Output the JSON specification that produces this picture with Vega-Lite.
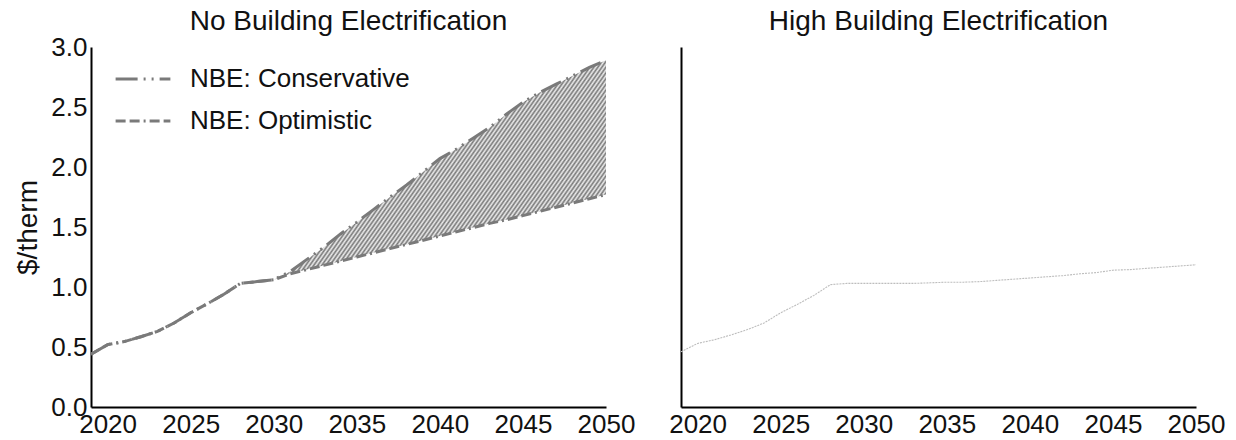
{
  "$schema": "https://vega.github.io/schema/vega-lite/v6.json",
  "padding": {"left": 14, "top": 8, "right": 4, "bottom": 0},
  "background": "white",
  "bounds": "flush",
  "config": {
    "view": {"stroke": null},
    "font": "Liberation Sans",
    "concat": {"spacing": 75},
    "title": {"fontSize": 28, "fontWeight": "normal", "color": "#111", "anchor": "middle", "baseline": "alphabetic", "frame": "group"},
    "axis": {
      "grid": false, "ticks": false, "domainColor": "black", "domainWidth": 2, "labelOverlap": false, "labelFlush": false,
      "labelFontSize": 26, "labelColor": "#111", "titleFontSize": 28, "titleFontWeight": "normal", "titleColor": "#111",
      "labelFont": "Liberation Sans", "titleFont": "Liberation Sans"
    }
  },
  "datasets": {
    "nbe": [
      {"year": 2019, "NBE: Conservative": 0.44, "NBE: Optimistic": 0.44},
      {"year": 2020, "NBE: Conservative": 0.52, "NBE: Optimistic": 0.52},
      {"year": 2021, "NBE: Conservative": 0.545, "NBE: Optimistic": 0.545},
      {"year": 2022, "NBE: Conservative": 0.585, "NBE: Optimistic": 0.585},
      {"year": 2023, "NBE: Conservative": 0.63, "NBE: Optimistic": 0.63},
      {"year": 2024, "NBE: Conservative": 0.7, "NBE: Optimistic": 0.7},
      {"year": 2025, "NBE: Conservative": 0.785, "NBE: Optimistic": 0.785},
      {"year": 2026, "NBE: Conservative": 0.86, "NBE: Optimistic": 0.86},
      {"year": 2027, "NBE: Conservative": 0.94, "NBE: Optimistic": 0.94},
      {"year": 2028, "NBE: Conservative": 1.03, "NBE: Optimistic": 1.03},
      {"year": 2029, "NBE: Conservative": 1.045, "NBE: Optimistic": 1.045},
      {"year": 2030, "NBE: Conservative": 1.06, "NBE: Optimistic": 1.06},
      {"year": 2031, "NBE: Conservative": 1.13, "NBE: Optimistic": 1.11},
      {"year": 2032, "NBE: Conservative": 1.23, "NBE: Optimistic": 1.145},
      {"year": 2033, "NBE: Conservative": 1.33, "NBE: Optimistic": 1.18},
      {"year": 2034, "NBE: Conservative": 1.44, "NBE: Optimistic": 1.215},
      {"year": 2035, "NBE: Conservative": 1.54, "NBE: Optimistic": 1.25},
      {"year": 2036, "NBE: Conservative": 1.645, "NBE: Optimistic": 1.285},
      {"year": 2037, "NBE: Conservative": 1.75, "NBE: Optimistic": 1.32},
      {"year": 2038, "NBE: Conservative": 1.85, "NBE: Optimistic": 1.355},
      {"year": 2039, "NBE: Conservative": 1.96, "NBE: Optimistic": 1.39},
      {"year": 2040, "NBE: Conservative": 2.07, "NBE: Optimistic": 1.425},
      {"year": 2041, "NBE: Conservative": 2.15, "NBE: Optimistic": 1.46},
      {"year": 2042, "NBE: Conservative": 2.24, "NBE: Optimistic": 1.495},
      {"year": 2043, "NBE: Conservative": 2.33, "NBE: Optimistic": 1.53},
      {"year": 2044, "NBE: Conservative": 2.44, "NBE: Optimistic": 1.56},
      {"year": 2045, "NBE: Conservative": 2.54, "NBE: Optimistic": 1.595},
      {"year": 2046, "NBE: Conservative": 2.62, "NBE: Optimistic": 1.63},
      {"year": 2047, "NBE: Conservative": 2.69, "NBE: Optimistic": 1.665},
      {"year": 2048, "NBE: Conservative": 2.76, "NBE: Optimistic": 1.7},
      {"year": 2049, "NBE: Conservative": 2.83, "NBE: Optimistic": 1.735},
      {"year": 2050, "NBE: Conservative": 2.89, "NBE: Optimistic": 1.77}
    ],
    "hbe": [
      {"year": 2019, "price": 0.46},
      {"year": 2020, "price": 0.53},
      {"year": 2021, "price": 0.56},
      {"year": 2022, "price": 0.6},
      {"year": 2023, "price": 0.645},
      {"year": 2024, "price": 0.7},
      {"year": 2025, "price": 0.785},
      {"year": 2026, "price": 0.855},
      {"year": 2027, "price": 0.93},
      {"year": 2028, "price": 1.02},
      {"year": 2029, "price": 1.03},
      {"year": 2030, "price": 1.03},
      {"year": 2031, "price": 1.03},
      {"year": 2032, "price": 1.03},
      {"year": 2033, "price": 1.03},
      {"year": 2034, "price": 1.035},
      {"year": 2035, "price": 1.04},
      {"year": 2036, "price": 1.04},
      {"year": 2037, "price": 1.045},
      {"year": 2038, "price": 1.055},
      {"year": 2039, "price": 1.065},
      {"year": 2040, "price": 1.075},
      {"year": 2041, "price": 1.085},
      {"year": 2042, "price": 1.095},
      {"year": 2043, "price": 1.11},
      {"year": 2044, "price": 1.12},
      {"year": 2045, "price": 1.14},
      {"year": 2046, "price": 1.145},
      {"year": 2047, "price": 1.155},
      {"year": 2048, "price": 1.165},
      {"year": 2049, "price": 1.175},
      {"year": 2050, "price": 1.185}
    ]
  },
  "hconcat": [
    {
      "width": 515,
      "height": 360,
      "title": {"text": "No Building Electrification", "offset": -2},
      "data": {"name": "nbe"},
      "layer": [
        {
          "mark": {"type": "area", "opacity": 1, "fill": {"gradient": "linear", "x1": 0.65, "y1": 0, "x2": 1.323, "y2": 0.27, "stops": [
            {"offset":0,"color":"#777"},{"offset":0.005,"color":"#eee"},{"offset":0.01,"color":"#777"},{"offset":0.015,"color":"#eee"},{"offset":0.02,"color":"#777"},{"offset":0.025,"color":"#eee"},{"offset":0.03,"color":"#777"},{"offset":0.035,"color":"#eee"},{"offset":0.04,"color":"#777"},{"offset":0.045,"color":"#eee"},
            {"offset":0.05,"color":"#777"},{"offset":0.055,"color":"#eee"},{"offset":0.06,"color":"#777"},{"offset":0.065,"color":"#eee"},{"offset":0.07,"color":"#777"},{"offset":0.075,"color":"#eee"},{"offset":0.08,"color":"#777"},{"offset":0.085,"color":"#eee"},{"offset":0.09,"color":"#777"},{"offset":0.095,"color":"#eee"},
            {"offset":0.1,"color":"#777"},{"offset":0.105,"color":"#eee"},{"offset":0.11,"color":"#777"},{"offset":0.115,"color":"#eee"},{"offset":0.12,"color":"#777"},{"offset":0.125,"color":"#eee"},{"offset":0.13,"color":"#777"},{"offset":0.135,"color":"#eee"},{"offset":0.14,"color":"#777"},{"offset":0.145,"color":"#eee"},
            {"offset":0.15,"color":"#777"},{"offset":0.155,"color":"#eee"},{"offset":0.16,"color":"#777"},{"offset":0.165,"color":"#eee"},{"offset":0.17,"color":"#777"},{"offset":0.175,"color":"#eee"},{"offset":0.18,"color":"#777"},{"offset":0.185,"color":"#eee"},{"offset":0.19,"color":"#777"},{"offset":0.195,"color":"#eee"},
            {"offset":0.2,"color":"#777"},{"offset":0.205,"color":"#eee"},{"offset":0.21,"color":"#777"},{"offset":0.215,"color":"#eee"},{"offset":0.22,"color":"#777"},{"offset":0.225,"color":"#eee"},{"offset":0.23,"color":"#777"},{"offset":0.235,"color":"#eee"},{"offset":0.24,"color":"#777"},{"offset":0.245,"color":"#eee"},
            {"offset":0.25,"color":"#777"},{"offset":0.255,"color":"#eee"},{"offset":0.26,"color":"#777"},{"offset":0.265,"color":"#eee"},{"offset":0.27,"color":"#777"},{"offset":0.275,"color":"#eee"},{"offset":0.28,"color":"#777"},{"offset":0.285,"color":"#eee"},{"offset":0.29,"color":"#777"},{"offset":0.295,"color":"#eee"},
            {"offset":0.3,"color":"#777"},{"offset":0.305,"color":"#eee"},{"offset":0.31,"color":"#777"},{"offset":0.315,"color":"#eee"},{"offset":0.32,"color":"#777"},{"offset":0.325,"color":"#eee"},{"offset":0.33,"color":"#777"},{"offset":0.335,"color":"#eee"},{"offset":0.34,"color":"#777"},{"offset":0.345,"color":"#eee"},
            {"offset":0.35,"color":"#777"},{"offset":0.355,"color":"#eee"},{"offset":0.36,"color":"#777"},{"offset":0.365,"color":"#eee"},{"offset":0.37,"color":"#777"},{"offset":0.375,"color":"#eee"},{"offset":0.38,"color":"#777"},{"offset":0.385,"color":"#eee"},{"offset":0.39,"color":"#777"},{"offset":0.395,"color":"#eee"},
            {"offset":0.4,"color":"#777"},{"offset":0.405,"color":"#eee"},{"offset":0.41,"color":"#777"},{"offset":0.415,"color":"#eee"},{"offset":0.42,"color":"#777"},{"offset":0.425,"color":"#eee"},{"offset":0.43,"color":"#777"},{"offset":0.435,"color":"#eee"},{"offset":0.44,"color":"#777"},{"offset":0.445,"color":"#eee"},
            {"offset":0.45,"color":"#777"},{"offset":0.455,"color":"#eee"},{"offset":0.46,"color":"#777"},{"offset":0.465,"color":"#eee"},{"offset":0.47,"color":"#777"},{"offset":0.475,"color":"#eee"},{"offset":0.48,"color":"#777"},{"offset":0.485,"color":"#eee"},{"offset":0.49,"color":"#777"},{"offset":0.495,"color":"#eee"},
            {"offset":0.5,"color":"#777"},{"offset":0.505,"color":"#eee"},{"offset":0.51,"color":"#777"},{"offset":0.515,"color":"#eee"},{"offset":0.52,"color":"#777"},{"offset":0.525,"color":"#eee"},{"offset":0.53,"color":"#777"},{"offset":0.535,"color":"#eee"},{"offset":0.54,"color":"#777"},{"offset":0.545,"color":"#eee"},
            {"offset":0.55,"color":"#777"},{"offset":0.555,"color":"#eee"},{"offset":0.56,"color":"#777"},{"offset":0.565,"color":"#eee"},{"offset":0.57,"color":"#777"},{"offset":0.575,"color":"#eee"},{"offset":0.58,"color":"#777"},{"offset":0.585,"color":"#eee"},{"offset":0.59,"color":"#777"},{"offset":0.595,"color":"#eee"},
            {"offset":0.6,"color":"#777"},{"offset":0.605,"color":"#eee"},{"offset":0.61,"color":"#777"},{"offset":0.615,"color":"#eee"},{"offset":0.62,"color":"#777"},{"offset":0.625,"color":"#eee"},{"offset":0.63,"color":"#777"},{"offset":0.635,"color":"#eee"},{"offset":0.64,"color":"#777"},{"offset":0.645,"color":"#eee"},
            {"offset":0.65,"color":"#777"},{"offset":0.655,"color":"#eee"},{"offset":0.66,"color":"#777"},{"offset":0.665,"color":"#eee"},{"offset":0.67,"color":"#777"},{"offset":0.675,"color":"#eee"},{"offset":0.68,"color":"#777"},{"offset":0.685,"color":"#eee"},{"offset":0.69,"color":"#777"},{"offset":0.695,"color":"#eee"},
            {"offset":0.7,"color":"#777"},{"offset":0.705,"color":"#eee"},{"offset":0.71,"color":"#777"},{"offset":0.715,"color":"#eee"},{"offset":0.72,"color":"#777"},{"offset":0.725,"color":"#eee"},{"offset":0.73,"color":"#777"},{"offset":0.735,"color":"#eee"},{"offset":0.74,"color":"#777"},{"offset":0.745,"color":"#eee"},
            {"offset":0.75,"color":"#777"},{"offset":0.755,"color":"#eee"},{"offset":0.76,"color":"#777"},{"offset":0.765,"color":"#eee"},{"offset":0.77,"color":"#777"},{"offset":0.775,"color":"#eee"},{"offset":0.78,"color":"#777"},{"offset":0.785,"color":"#eee"},{"offset":0.79,"color":"#777"},{"offset":0.795,"color":"#eee"},
            {"offset":0.8,"color":"#777"},{"offset":0.805,"color":"#eee"},{"offset":0.81,"color":"#777"},{"offset":0.815,"color":"#eee"},{"offset":0.82,"color":"#777"},{"offset":0.825,"color":"#eee"},{"offset":0.83,"color":"#777"},{"offset":0.835,"color":"#eee"},{"offset":0.84,"color":"#777"},{"offset":0.845,"color":"#eee"},
            {"offset":0.85,"color":"#777"},{"offset":0.855,"color":"#eee"},{"offset":0.86,"color":"#777"},{"offset":0.865,"color":"#eee"},{"offset":0.87,"color":"#777"},{"offset":0.875,"color":"#eee"},{"offset":0.88,"color":"#777"},{"offset":0.885,"color":"#eee"},{"offset":0.89,"color":"#777"},{"offset":0.895,"color":"#eee"},
            {"offset":0.9,"color":"#777"},{"offset":0.905,"color":"#eee"},{"offset":0.91,"color":"#777"},{"offset":0.915,"color":"#eee"},{"offset":0.92,"color":"#777"},{"offset":0.925,"color":"#eee"},{"offset":0.93,"color":"#777"},{"offset":0.935,"color":"#eee"},{"offset":0.94,"color":"#777"},{"offset":0.945,"color":"#eee"},
            {"offset":0.95,"color":"#777"},{"offset":0.955,"color":"#eee"},{"offset":0.96,"color":"#777"},{"offset":0.965,"color":"#eee"},{"offset":0.97,"color":"#777"},{"offset":0.975,"color":"#eee"},{"offset":0.98,"color":"#777"},{"offset":0.985,"color":"#eee"},{"offset":0.99,"color":"#777"},{"offset":0.995,"color":"#eee"},
            {"offset":1,"color":"#777"}
          ]}},
          "encoding": {
            "x": {"field": "year", "type": "quantitative", "scale": {"domain": [2019, 2050], "nice": false, "zero": false},
                  "axis": {"values": [2020, 2025, 2030, 2035, 2040, 2045, 2050], "format": "d", "title": null, "labelPadding": 4}},
            "y": {"field": "NBE: Optimistic", "type": "quantitative", "scale": {"domain": [0, 3], "nice": false},
                  "axis": {"values": [0, 0.5, 1, 1.5, 2, 2.5, 3], "format": ".1f", "title": "$/therm", "labelPadding": 4, "titlePadding": 8}},
            "y2": {"field": "NBE: Conservative"}
          }
        },
        {
          "transform": [{"fold": ["NBE: Conservative", "NBE: Optimistic"], "as": ["scenario", "value"]}],
          "mark": {"type": "line", "color": "#7a7a7a", "strokeWidth": 3},
          "encoding": {
            "x": {"field": "year", "type": "quantitative"},
            "y": {"field": "value", "type": "quantitative"},
            "strokeDash": {
              "field": "scenario", "type": "nominal",
              "scale": {"domain": ["NBE: Conservative", "NBE: Optimistic"], "range": [[22, 6, 2, 6, 2, 6], [10, 4, 10, 4, 2, 4]]},
              "legend": {
                "title": null, "orient": "none", "legendX": 23, "legendY": 3,
                "symbolType": "stroke", "symbolSize": 3000, "symbolStrokeWidth": 3, "symbolStrokeColor": "#7a7a7a",
                "labelFontSize": 26, "labelColor": "#111", "labelOffset": 18, "labelLimit": 400, "rowPadding": -15, "padding": 0
              }
            }
          }
        }
      ]
    },
    {
      "width": 515,
      "height": 360,
      "title": {"text": "High Building Electrification", "offset": 11},
      "data": {"name": "hbe"},
      "mark": {"type": "line", "color": "#bdbdbd", "strokeWidth": 1.1, "strokeDash": [2, 1]},
      "encoding": {
        "x": {"field": "year", "type": "quantitative", "scale": {"domain": [2019, 2050], "nice": false, "zero": false},
              "axis": {"values": [2020, 2025, 2030, 2035, 2040, 2045, 2050], "format": "d", "title": null, "labelPadding": 4}},
        "y": {"field": "price", "type": "quantitative", "scale": {"domain": [0, 3], "nice": false},
              "axis": {"labels": false, "title": null}}
      }
    }
  ]
}
